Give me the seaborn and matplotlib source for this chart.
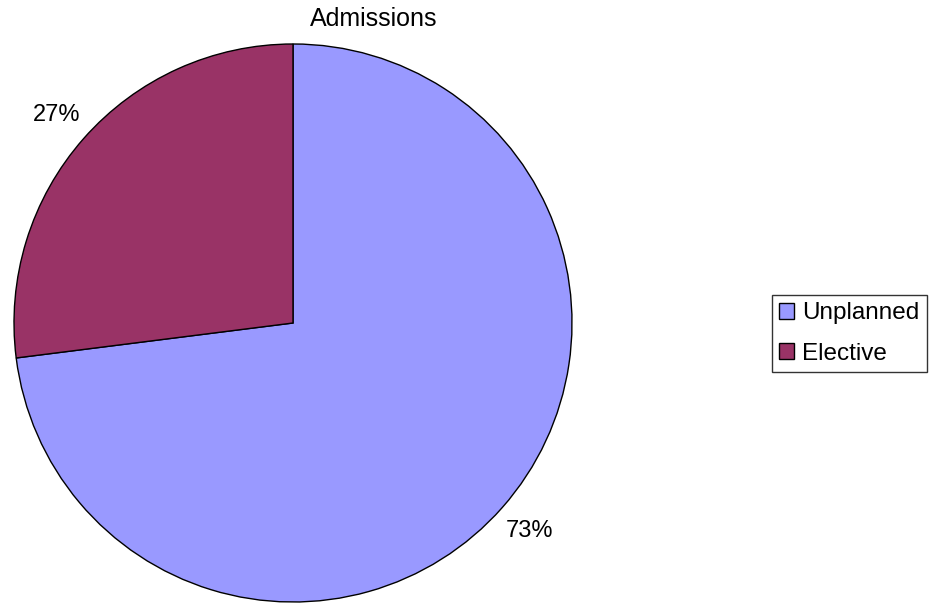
import matplotlib
matplotlib.use("Agg")
import matplotlib.pyplot as plt
from matplotlib.patches import Patch
import seaborn as sns

sns.set_theme(style="white")
plt.rcParams["font.family"] = ["Liberation Sans", "DejaVu Sans"]
plt.rcParams["text.color"] = "black"

# Admission types and their shares (%)
categories = ["Unplanned", "Elective"]
shares = [73, 27]
colors = ["#9999FF", "#993366"]
title = "Admissions"

W, H = 931, 603
fig = plt.figure(figsize=(W / 100, H / 100), dpi=100)
fig.patch.set_facecolor("white")

# Pie axes: centre (293, 323) px, radius 279 px
cx, cy, r = 293, 323, 279
ax = fig.add_axes([(cx - r) / W, (H - cy - r) / H, 2 * r / W, 2 * r / H])

wedges, _, autotexts = ax.pie(
    shares,
    colors=colors,
    startangle=90,
    counterclock=False,
    autopct=lambda p: f"{p:.0f}%",
    pctdistance=1.13,
    wedgeprops=dict(edgecolor="black", linewidth=1.0),
    textprops=dict(fontsize=17, color="black"),
)
ax.set_xlim(-1, 1)
ax.set_ylim(-1, 1)
ax.set_aspect("equal")
ax.axis("off")

fig.text(373.5 / W, 1 - 19 / H, title, ha="center", va="center",
         fontsize=18, color="black")

handles = [Patch(facecolor=c, edgecolor="black", linewidth=1.0) for c in colors]
leg = fig.legend(
    handles,
    categories,
    loc="center left",
    bbox_to_anchor=(772 / W, 1 - 333.5 / H),
    fontsize=17.5,
    frameon=True,
    fancybox=False,
    handlelength=0.6,
    handleheight=0.6,
    handletextpad=0.35,
    borderpad=0.3,
    labelspacing=0.75,
    borderaxespad=0,
)
for t in leg.get_texts():
    t.set_color("black")
leg.get_frame().set_edgecolor("black")
leg.get_frame().set_linewidth(1.0)

fig.savefig("out.png", dpi=100, facecolor="white")
